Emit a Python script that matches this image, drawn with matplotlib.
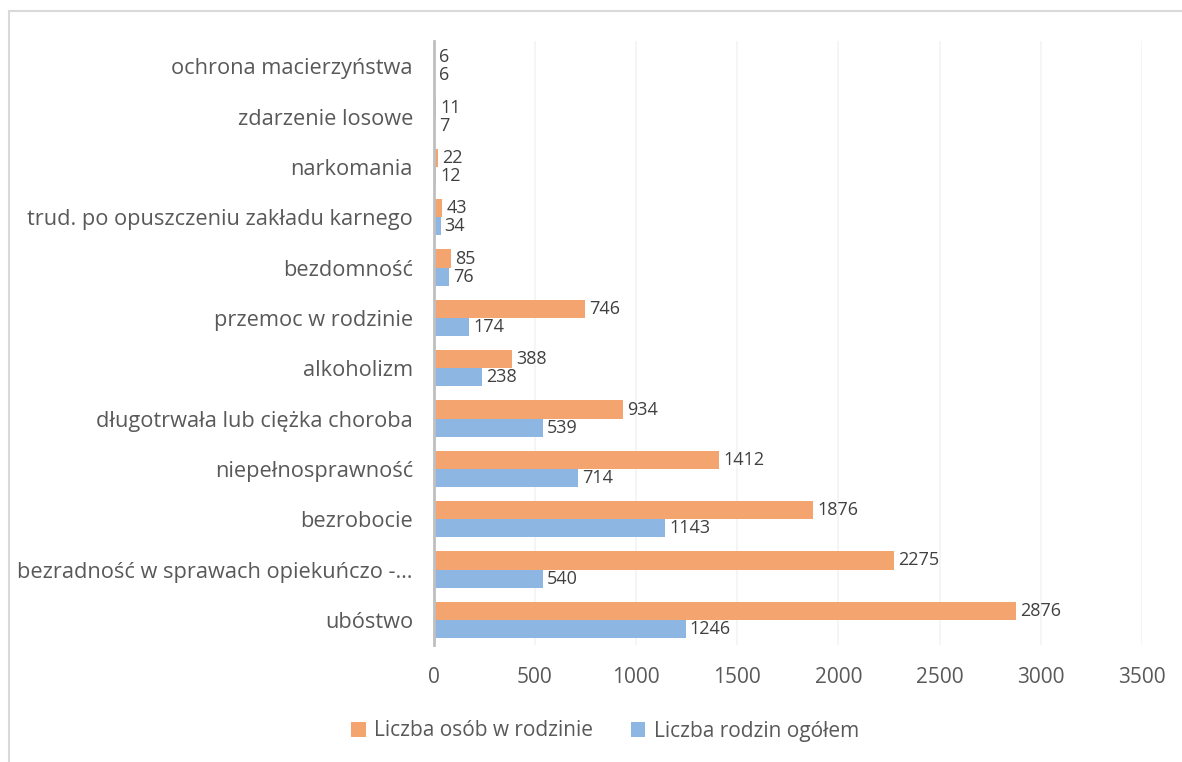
import matplotlib.pyplot as plt
import numpy as np
from matplotlib.patches import Rectangle

categories = [
    "ubóstwo",
    "bezradność w sprawach opiekuńczo -…",
    "bezrobocie",
    "niepełnosprawność",
    "długotrwała lub ciężka choroba",
    "alkoholizm",
    "przemoc w rodzinie",
    "bezdomność",
    "trud. po opuszczeniu zakładu karnego",
    "narkomania",
    "zdarzenie losowe",
    "ochrona macierzyństwa",
]
osoby = [2876, 2275, 1876, 1412, 934, 388, 746, 85, 43, 22, 11, 6]
rodziny = [1246, 540, 1143, 714, 539, 238, 174, 76, 34, 12, 7, 6]
xticks = [0, 500, 1000, 1500, 2000, 2500, 3000, 3500]

orange = "#F4A46E"
blue = "#8DB6E2"
text_col = "#595959"

plt.rcParams['font.family'] = ['Open Sans', 'DejaVu Sans']

fig = plt.figure(figsize=(11.82, 7.62), dpi=100)
ax = fig.add_axes([0.367, 0.1535, 0.599, 0.7925])

# chart border (cut off right and bottom like the source)
fig.patches.append(Rectangle((9 / 1182, -0.1), 1.2, 1 - 11 / 762 + 0.1,
                             transform=fig.transFigure, fill=False,
                             edgecolor="#d9d9d9", linewidth=1.5))

y = np.arange(len(categories))
h = 0.36
ax.barh(y + h / 2, osoby, height=h, color=orange, label="Liczba osób w rodzinie", zorder=2)
ax.barh(y - h / 2, rodziny, height=h, color=blue, label="Liczba rodzin ogółem", zorder=2)

for yi, v in zip(y, osoby):
    ax.text(v + 20, yi + h / 2, str(v), va="center", ha="left", fontsize=13, color="#404040")
for yi, v in zip(y, rodziny):
    ax.text(v + 20, yi - h / 2, str(v), va="center", ha="left", fontsize=13, color="#404040")

ax.set_xlim(0, 3500)
ax.set_ylim(-0.5, len(categories) - 0.5)
ax.set_xticks(xticks)
ax.set_xticklabels([str(t) for t in xticks], fontsize=15, color=text_col)
ax.set_yticks(y)
ax.set_yticklabels(categories, fontsize=15.7, color=text_col)
ax.tick_params(length=0)
ax.tick_params(axis="y", pad=15)
ax.tick_params(axis="x", pad=16)
ax.grid(axis="x", color="#f3f3f3", linewidth=1.2, zorder=0)
for s in ["top", "right", "bottom"]:
    ax.spines[s].set_visible(False)
ax.spines["left"].set_color("#bfbfbf")
ax.spines["left"].set_linewidth(2)
ax.spines["left"].set_zorder(3)

fig.legend(loc="center", bbox_to_anchor=(0.512, 1 - 731 / 762), ncol=2, frameon=False,
           fontsize=15, labelcolor=text_col, handlelength=0.7, handleheight=0.7,
           handletextpad=0.4, columnspacing=1.8)

fig.savefig("out.png", dpi=100)
